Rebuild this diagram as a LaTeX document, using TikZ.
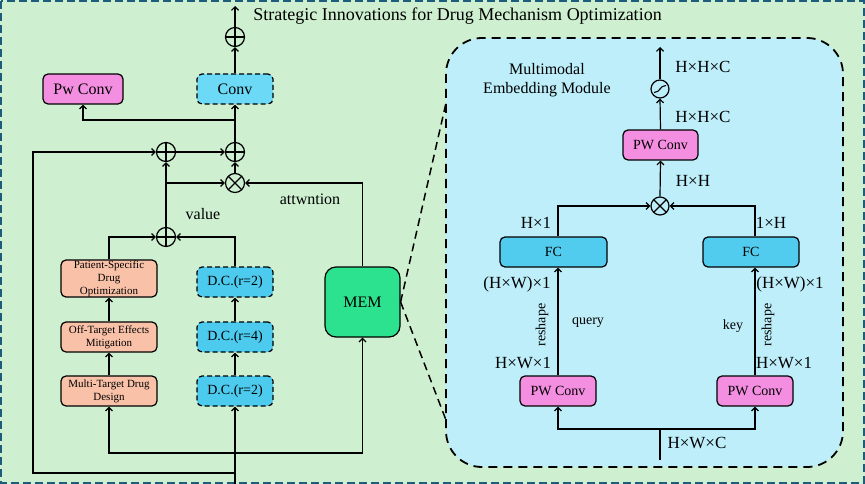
\documentclass[tikz,border=0pt]{standalone}
\usepackage{fontspec}
\setmainfont{Liberation Serif}
\usetikzlibrary{arrows.meta,calc}
\definecolor{bggreen}{RGB}{206,240,208}
\definecolor{bdteal}{RGB}{29,92,122}
\definecolor{panelc}{RGB}{189,238,250}
\definecolor{pinkc}{RGB}{244,142,224}
\definecolor{convc}{RGB}{108,218,246}
\definecolor{dcc}{RGB}{76,203,239}
\definecolor{fcc}{RGB}{82,204,238}
\definecolor{salm}{RGB}{249,194,168}
\definecolor{memc}{RGB}{45,226,143}
\tikzset{
  ln/.style={line width=1.2pt},
  arr/.style={ln,-{Straight Barb[length=3.5pt,width=7pt,line width=1.2pt]}},
  bx/.style={draw,line width=1.2pt,rounded corners=5pt,inner sep=0pt,align=center},
  dbx/.style={bx,dash pattern=on 5pt off 3pt},
  oplusn/.style={circle,draw,line width=1.2pt,minimum size=19pt,inner sep=0pt,
    path picture={\draw[line width=1.2pt] (path picture bounding box.north) -- (path picture bounding box.south) (path picture bounding box.west) -- (path picture bounding box.east);}},
  otimesn/.style={circle,draw,line width=1.2pt,minimum size=19pt,inner sep=0pt,
    path picture={\draw[line width=1.2pt] (path picture bounding box.north west) -- (path picture bounding box.south east) (path picture bounding box.south west) -- (path picture bounding box.north east);}},
  lbl/.style={inner sep=0pt,font=\fontsize{16}{18}\selectfont},
  dim/.style={inner sep=0pt,font=\fontsize{17}{19}\selectfont},
  sm/.style={inner sep=0pt,font=\fontsize{14}{16}\selectfont},
}
\begin{document}
\begin{tikzpicture}[x=1pt,y=-1pt]
\useasboundingbox (0,0) rectangle (865,484);
% background
\fill[bggreen] (0,0) rectangle (865,484);
\draw[bdteal,line width=1.6pt,dash pattern=on 8pt off 4pt] (1,1) rectangle (864,483);
\node[inner sep=0pt,font=\fontsize{18}{20}\selectfont] (title) at (457.5,16) {Strategic Innovations for Drug Mechanism Optimization};

% left column nodes
\coordinate (out) at (235,6);
\node[oplusn] (p0) at (235,37) {};
\node[dbx,fill=convc,minimum width=76pt,minimum height=30pt,font=\fontsize{16}{18}\selectfont] (conv) at (235,89) {Conv};
\node[bx,fill=pinkc,minimum width=80pt,minimum height=30pt,font=\fontsize{16}{18}\selectfont] (pw) at (83,89) {Pw Conv};
\node[oplusn] (p1) at (166,152) {};
\node[oplusn] (p2) at (235,152) {};
\node[otimesn] (ot) at (235,183) {};
\node[oplusn] (p3) at (166,237) {};
\node[bx,fill=salm,minimum width=96pt,minimum height=37pt,font=\fontsize{11}{13}\selectfont] (psd) at (109,278.5) {Patient-Specific\\Drug\\Optimization};
\node[bx,fill=salm,minimum width=96pt,minimum height=30pt,font=\fontsize{11}{13}\selectfont] (off) at (109,337) {Off-Target Effects\\Mitigation};
\node[bx,fill=salm,minimum width=96pt,minimum height=30pt,font=\fontsize{11}{13}\selectfont] (mtd) at (109,391) {Multi-Target Drug\\Design};
\node[dbx,fill=dcc,minimum width=76pt,minimum height=30pt,font=\fontsize{14}{16}\selectfont] (dc1) at (235,282) {D.C.(r=2)};
\node[dbx,fill=dcc,minimum width=76pt,minimum height=30pt,font=\fontsize{14}{16}\selectfont] (dc2) at (235,337) {D.C.(r=4)};
\node[dbx,fill=dcc,minimum width=76pt,minimum height=30pt,font=\fontsize{14}{16}\selectfont] (dc3) at (235,391) {D.C.(r=2)};
\node[bx,rounded corners=11pt,fill=memc,minimum width=75pt,minimum height=70pt,font=\fontsize{16}{18}\selectfont] (mem) at (362.5,302) {MEM};
\coordinate (inb) at (235,484);
\coordinate (j1) at (235,473);
\coordinate (j2) at (235,453);
\coordinate (lc) at (33,473);
\coordinate (j3) at (166,183);
\coordinate (j4) at (235,120);

% left connectors
\draw[arr] (inb) -- (dc3.south);
\draw[arr] (j1) -- (lc) |- (p1.west);
\draw[arr] (j2) -| (mtd.south);
\draw[arr] (j2) -| (mem.south);
\draw[arr] (mtd) -- (off);
\draw[arr] (off) -- (psd);
\draw[arr] (dc3) -- (dc2);
\draw[arr] (dc2) -- (dc1);
\draw[arr] (psd.north) |- (p3.west);
\draw[arr] (dc1.north) |- (p3.east);
\draw[arr] (p3.north) -- (p1.south);
\draw[arr] (j3) -- (ot.west);
\draw[arr] (mem.north) |- (ot.east);
\draw[arr] (ot.north) -- (p2.south);
\draw[arr] (p1.east) -- (p2.west);
\draw[arr] (p2.north) -- (conv.south);
\draw[arr] (j4) -| (pw.south);
\draw[arr] (conv.north) -- (p0.south);
\draw[arr] (p0.north) -- (out);
\node[lbl] (val) at (203,214) {value};
\node[lbl] (att) at (310,199) {attwntion};

% zoom lines and panel
\coordinate (zt) at (446,103);
\coordinate (zb) at (446,420);
\draw[line width=1.5pt,dash pattern=on 8pt off 5pt] (mem.east) -- (zt);
\draw[line width=1.5pt,dash pattern=on 8pt off 5pt] (mem.east) -- (zb);
\draw[line width=1.8pt,dash pattern=on 9pt off 6pt,fill=panelc,rounded corners=36pt] (446,38) rectangle (843,467);

% right panel nodes
\node[lbl,align=center,font=\fontsize{16}{19}\selectfont] (mmtitle) at (547,80.5) {Multimodal\\Embedding Module};
\coordinate (out2) at (660,47);
\node[circle,draw,line width=1.2pt,minimum size=18pt,inner sep=0pt] (sig) at (660,89) {};
\draw[line width=1.1pt] ($(sig)+(-6,3.5)$) .. controls ($(sig)+(0.5,3.5)$) and ($(sig)+(-0.5,-3.5)$) .. ($(sig)+(6,-3.5)$);
\node[bx,fill=pinkc,minimum width=75pt,minimum height=30pt,font=\fontsize{14}{16}\selectfont] (pwt) at (660.5,145) {PW Conv};
\node[otimesn,minimum size=18pt] (ot2) at (660,206) {};
\node[bx,fill=fcc,minimum width=107pt,minimum height=30pt,font=\fontsize{14}{16}\selectfont] (fcl) at (553.5,252) {FC};
\node[bx,fill=fcc,minimum width=96pt,minimum height=30pt,font=\fontsize{14}{16}\selectfont] (fcr) at (751,252) {FC};
\node[bx,fill=pinkc,minimum width=76pt,minimum height=30pt,font=\fontsize{14}{16}\selectfont] (pwl) at (558,391) {PW Conv};
\node[bx,fill=pinkc,minimum width=76pt,minimum height=30pt,font=\fontsize{14}{16}\selectfont] (pwr) at (755,391) {PW Conv};
\coordinate (in2) at (660,460);
\coordinate (jn) at (660,429);

% right connectors
\draw[ln] (in2) -- (jn);
\draw[arr] (jn) -| (pwl.south);
\draw[arr] (jn) -| (pwr.south);
\draw[arr] (pwl.north) -- (pwl.north |- fcl.south);
\draw[arr] (pwr.north) -- (pwr.north |- fcr.south);
\draw[arr] (fcl.north -| pwl.north) |- (ot2.west);
\draw[arr] (fcr.north -| pwr.north) |- (ot2.east);
\draw[arr] (ot2.north) -- (pwt.south);
\draw[arr] (pwt.north) -- (sig.south);
\draw[arr] (sig.north) -- (out2);

% right labels
\node[dim] (d1) at (703,67) {H×H×C};
\node[dim] (d2) at (703,117) {H×H×C};
\node[dim] (d3) at (693,181) {H×H};
\node[dim] (d4) at (536,223) {H×1};
\node[dim] (d5) at (771,223) {1×H};
\node[dim] (d6) at (517,284) {(H×W)×1};
\node[dim] (d7) at (790,284) {(H×W)×1};
\node[sm] (q) at (588,323) {query};
\node[sm] (k) at (733,326) {key};
\node[sm,rotate=90] (r1) at (542,325) {reshape};
\node[sm,rotate=90] (r2) at (768,325) {reshape};
\node[dim] (d8) at (523,363) {H×W×1};
\node[dim] (d9) at (784,363) {H×W×1};
\node[dim] (d10) at (697,443) {H×W×C};
\end{tikzpicture}
\end{document}
